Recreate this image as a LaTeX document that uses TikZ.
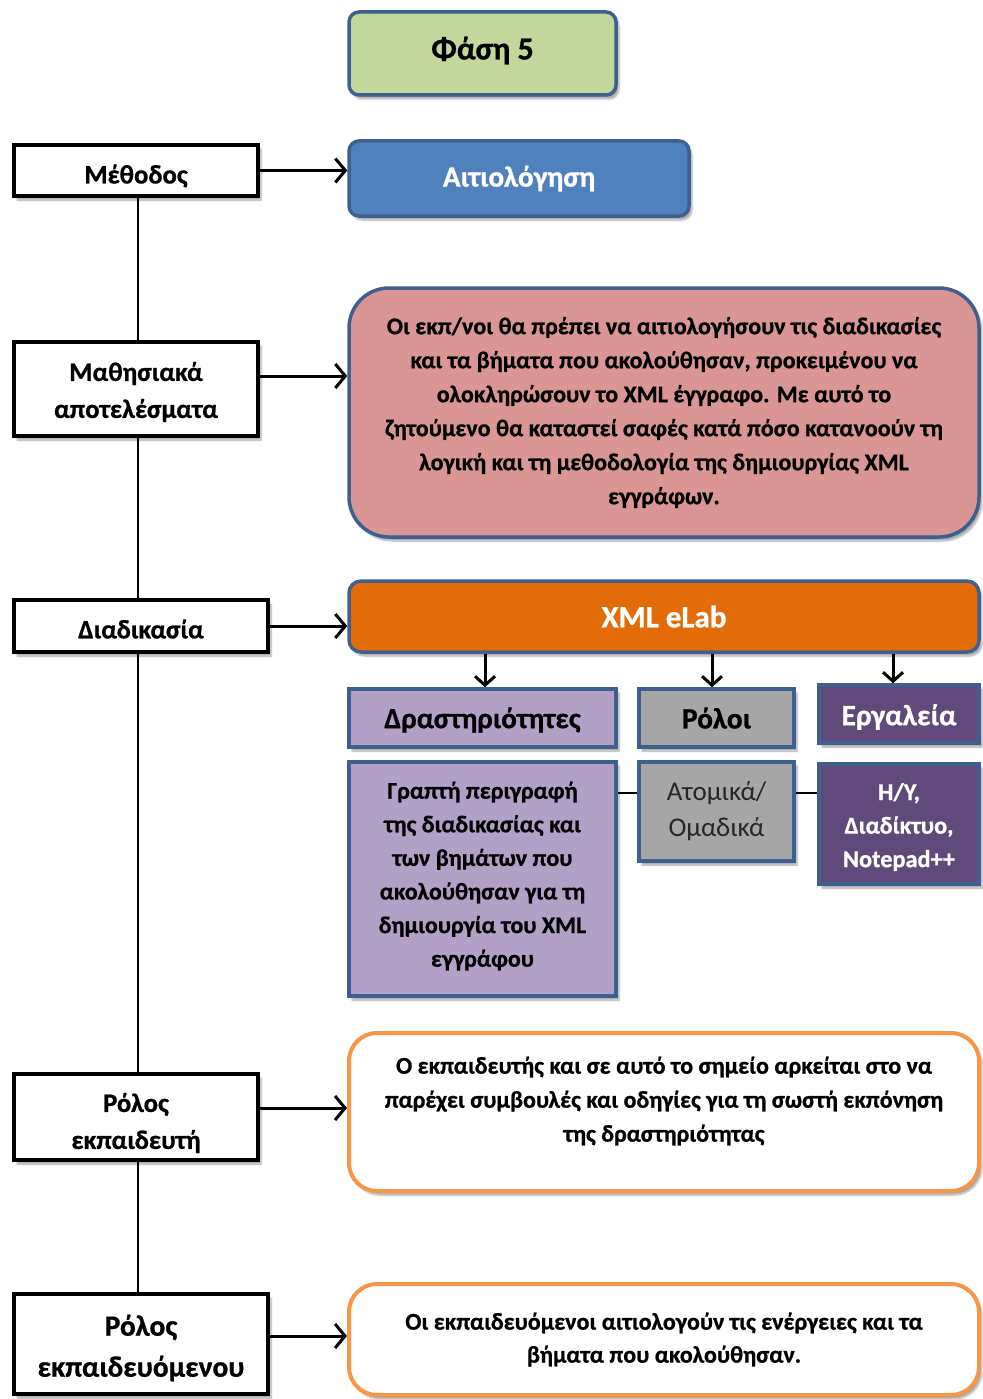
\documentclass[tikz,border=0pt]{standalone}
\usepackage{fontspec}
\setmainfont{Carlito}[BoldFeatures={FakeBold=0.8}]
\usetikzlibrary{arrows.meta,shadows.blur,backgrounds}
\definecolor{bordblue}{HTML}{3F5F8E}
\definecolor{greenf}{HTML}{C3D69B}
\definecolor{bluef}{HTML}{4F81BD}
\definecolor{pinkf}{HTML}{D99694}
\definecolor{orangef}{HTML}{E36C09}
\definecolor{lilacf}{HTML}{B2A1C7}
\definecolor{grayf}{HTML}{A6A6A6}
\definecolor{purplef}{HTML}{604A7B}
\definecolor{orangeb}{HTML}{F79646}
\tikzset{
  shd/.style={blur shadow={shadow xshift=3pt,shadow yshift=-4pt,shadow blur steps=6,shadow opacity=35}},
  leftbox/.style={draw=black,line width=4pt,fill=white,shd,inner sep=0pt},
  lefttext/.style={align=center,inner sep=0pt,font=\bfseries\fontsize{26.6}{37}\selectfont},
  colbox/.style={draw=bordblue,line width=3.5pt,shd,inner sep=0pt,align=center},
  boxtext/.style={align=center,inner sep=0pt},
  orbox/.style={draw=orangeb,line width=4pt,fill=white,shd,inner sep=0pt,align=center,rounded corners=28pt},
  arr/.style={line width=3pt,-{Straight Barb[length=10pt,width=24pt,line width=3pt]}},
  darr/.style={line width=3pt,-{Straight Barb[length=9pt,width=20pt,line width=3pt]}},
  vline/.style={line width=1.5pt},
  hline/.style={line width=2pt}
}
\begin{document}
\begin{tikzpicture}[x=1pt,y=-1pt]
\useasboundingbox (0,0) rectangle (982,1399);
% right column
\node[colbox,fill=greenf,rounded corners=10pt,minimum width=267pt,minimum height=83pt,font=\bfseries\fontsize{32}{36}\selectfont] (phase) at (482.5,53.5) {\raisebox{3pt}[\height][\depth]{Φάση 5}};
\node[colbox,fill=bluef,rounded corners=10pt,minimum width=340pt,minimum height=75pt,text=white,font=\bfseries\fontsize{29.3}{33}\selectfont] (aitio) at (519,178.5) {Αιτιολόγηση};
\node[colbox,fill=pinkf,rounded corners=40pt,minimum width=630pt,minimum height=249pt,font=\bfseries\fontsize{24}{34}\selectfont] (pink) at (664,412.5) {Οι εκπ/νοι θα πρέπει να αιτιολογήσουν τις διαδικασίες\\και τα βήματα που ακολούθησαν, προκειμένου να\\ολοκληρώσουν το XML έγγραφο. Με αυτό το\\ζητούμενο θα καταστεί σαφές κατά πόσο κατανοούν τη\\λογική και τη μεθοδολογία της δημιουργίας XML\\εγγράφων.};
\node[colbox,fill=orangef,rounded corners=12pt,minimum width=630pt,minimum height=71pt,text=white,font=\bfseries\fontsize{31}{33}\selectfont] (xml) at (664,616.5) {XML eLab};
\node[colbox,fill=lilacf,minimum width=267pt,minimum height=58pt,font=\bfseries\fontsize{29.2}{33}\selectfont] (drast) at (482.5,718) {\raisebox{-2pt}[\height][\depth]{Δραστηριότητες}};
\node[colbox,fill=grayf,minimum width=155pt,minimum height=58pt,font=\bfseries\fontsize{29.5}{33}\selectfont] (roloi) at (716.5,718) {Ρόλοι};
\node[colbox,fill=purplef,minimum width=160pt,minimum height=58pt,text=white,font=\bfseries\fontsize{29.5}{33}\selectfont] (ergal) at (899,714) {\raisebox{-3pt}[\height][\depth]{Εργαλεία}};
\node[colbox,fill=lilacf,minimum width=267pt,minimum height=234pt] (grapti) at (482.5,879) {};
\node[boxtext,font=\bfseries\fontsize{24}{33.6}\selectfont] (graptit) at (482.5,876) {Γραπτή περιγραφή\\της διαδικασίας και\\των βημάτων που\\ακολούθησαν για τη\\δημιουργία του XML\\εγγράφου};
\node[colbox,fill=grayf,minimum width=155pt,minimum height=99pt,text=black!85,font=\fontsize{27}{36}\selectfont] (atom) at (716.5,811.5) {Ατομικά/\\Ομαδικά};
\node[colbox,fill=purplef,minimum width=160pt,minimum height=120pt] (hy) at (899,824) {};
\node[boxtext,text=white,font=\bfseries\fontsize{24.3}{33.5}\selectfont] (hyt) at (899,827) {H/Y,\\Διαδίκτυο,\\Notepad++};
\node[orbox,minimum width=630pt,minimum height=158pt] (or1) at (664,1112) {};
\node[boxtext,font=\bfseries\fontsize{24}{34}\selectfont] (or1t) at (664,1101) {Ο εκπαιδευτής και σε αυτό το σημείο αρκείται στο να\\παρέχει συμβουλές και οδηγίες για τη σωστή εκπόνηση\\της δραστηριότητας};
\node[orbox,minimum width=630pt,minimum height=111pt,font=\bfseries\fontsize{24}{33}\selectfont] (or2) at (664,1339.5) {Οι εκπαιδευόμενοι αιτιολογούν τις ενέργειες και τα\\βήματα που ακολούθησαν.};
% left column
\node[leftbox,minimum width=244pt,minimum height=51pt] (meth) at (136,170.5) {};
\node[lefttext] (metht) at (136,176) {Μέθοδος};
\node[leftbox,minimum width=244pt,minimum height=94pt] (math) at (136,389) {};
\node[lefttext] (matht) at (136,392) {Μαθησιακά\\αποτελέσματα};
\node[leftbox,minimum width=254pt,minimum height=52pt] (diad) at (141,626) {};
\node[lefttext] (diadt) at (141,629) {Διαδικασία};
\node[leftbox,minimum width=244pt,minimum height=86pt] (rek) at (136,1117) {};
\node[lefttext] (rekt) at (136,1123) {Ρόλος\\εκπαιδευτή};
\node[leftbox,minimum width=254pt,minimum height=100pt] (reko) at (141,1344) {};
\node[lefttext,font=\bfseries\fontsize{29.4}{41}\selectfont] (rekot) at (141,1348) {Ρόλος\\εκπαιδευόμενου};
% connectors
\begin{scope}[on background layer]
\draw[vline] ([xshift=2pt]meth.south) -- ([xshift=2pt]meth.south |- reko.north);
\end{scope}
\draw[arr] (meth.east) -- (meth.east -| aitio.west);
\draw[arr] ([yshift=13pt]math.east) -- ([yshift=13pt]math.east -| pink.west);
\draw[arr] (diad.east) -- (diad.east -| xml.west);
\draw[arr] ([yshift=9pt]rek.east) -- ([yshift=9pt]rek.east -| or1.west);
\draw[arr] ([yshift=8pt]reko.east) -- ([yshift=8pt]reko.east -| or2.west);
\draw[darr] ([xshift=2.5pt]drast.north |- xml.south) -- ([xshift=2.5pt]drast.north);
\draw[darr] ([xshift=-4.5pt]roloi.north |- xml.south) -- ([xshift=-4.5pt]roloi.north);
\draw[darr] ([xshift=-6pt]ergal.north |- xml.south) -- ([xshift=-6pt]ergal.north);
\draw[hline] ([yshift=18.5pt]atom.west) -- ([yshift=18.5pt]atom.west -| grapti.east);
\draw[hline] ([yshift=18.5pt]atom.east) -- ([yshift=18.5pt]atom.east -| hy.west);
\end{tikzpicture}
\end{document}
